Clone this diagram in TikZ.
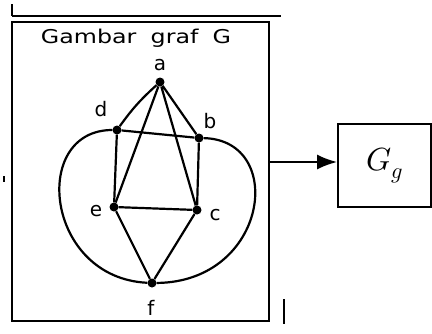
\documentclass[tikz,border=0pt]{standalone}
\usepackage{unicode-math}
\newfontfamily\handfont{DejaVu Sans}
\usetikzlibrary{arrows.meta,positioning}
\tikzset{
  vtx/.style={circle, fill=black, inner sep=0pt, minimum size=9pt},
  vlab/.style={font=\handfont\fontsize{20}{21}\selectfont, inner sep=0pt},
  edg/.style={line width=2.2pt},
  frm/.style={draw, line width=2.6pt},
  gbox/.style={draw, line width=1.6pt, minimum width=93pt, minimum height=83pt},
  parr/.style={-{Latex[length=20pt,width=15pt]}, line width=2.4pt},
}
\begin{document}
\begin{tikzpicture}[x=1pt,y=-1pt]
  \useasboundingbox (0,0) rectangle (432,333);
  % frame of the sketch
  \draw[frm] (12,22) rectangle (269,321);
  \draw[line width=2.6pt] (12,16) -- (281,16);
  \draw[line width=1.8pt] (12,4) -- (12,16);
  \draw[line width=1.6pt] (284,299) -- (284,324);
  \draw[line width=1.8pt] (4,176) -- (4,182);
  \node[font=\handfont\fontsize{19}{20}\selectfont, xscale=1.25] (ttl) at (136,38)
    {Gambar\hspace{0.6em}graf\hspace{0.6em}G};
  % vertices
  \node[vtx] (a) at (160,82) {};
  \node[vtx] (d) at (117,130) {};
  \node[vtx] (b) at (199,138) {};
  \node[vtx] (e) at (114,207) {};
  \node[vtx] (c) at (197,210) {};
  \node[vtx] (f) at (152,283) {};
  \node[vlab] (la) at (160,65) {a};
  \node[vlab] (ld) at (101,109) {d};
  \node[vlab] (lb) at (210,121) {b};
  \node[vlab] (le) at (96,211) {e};
  \node[vlab] (lc) at (215,215) {c};
  \node[vlab] (lf) at (151,308) {f};
  % edges
  \draw[edg] (a) to[bend right=6] (d);
  \draw[edg] (a) -- (b) (a) -- (e) (a) -- (c);
  \draw[edg] (d) -- (b) (d) -- (e) (b) -- (c);
  \draw[edg] (e) -- (c) (e) -- (f) (c) -- (f);
  \draw[edg] (d) .. controls (30,130) and (45,278) .. (f);
  \draw[edg] (f) .. controls (268,282) and (287,140) .. (b);
  % result
  \coordinate (out) at (269,162);
  \node[gbox, font=\fontsize{32}{34}\selectfont] (gg) at (384.5,165.5) {$G_g$};
  \draw[parr] (out) -- (out -| gg.west);
\end{tikzpicture}
\end{document}
